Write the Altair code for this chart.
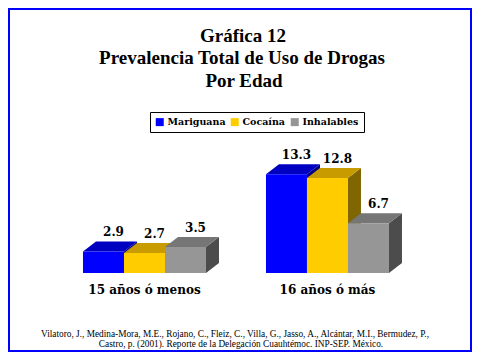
import altair as alt
import pandas as pd

# ---------------- data ----------------
groups = ["15 años ó menos", "16 años ó más"]
series = ["Mariguana", "Cocaína", "Inhalables"]
mariguana = [2.9, 13.3]
cocaina = [2.7, 12.8]
inhalables = [3.5, 6.7]
series_values = [mariguana, cocaina, inhalables]

front_colors = ["#0000FF", "#FFCC00", "#969696"]
top_colors = ["#0000C0", "#C89B00", "#767676"]
side_colors = ["#000080", "#806600", "#4C4C4C"]

title_lines = ["Gráfica 12", "Prevalencia Total de Uso de Drogas", "Por Edad"]
footer_lines = [
    "Vilatoro, J., Medina-Mora,  M.E., Rojano, C., Fleiz, C., Villa, G., Jasso, A., Alcántar, M.I., Bermudez, P.,",
    "Castro, p. (2001). Reporte de la Delegación Cuauhtémoc. INP-SEP. México.",
]

# layout in bar-width units (x) and value units (y)
group_start = [0.0, 4.463]
depth_x = 0.317
depth_y = 1.346
x_domain = [-1.829, 9.488]
y_domain = [-10.633, 35.666]

W, H = 464, 344

# ---------------- derived tables ----------------
fronts, faces, labels = [], [], []
for g, gname in enumerate(groups):
    for s, sname in enumerate(series):
        v = series_values[s][g]
        L = group_start[g] + s
        R = L + 1
        bid = f"{g}-{s}"
        fronts.append(dict(serie=sname, L=L, R=R, T=v, B=0.0))
        labels.append(dict(xc=L + 0.5, v=v, label=f"{v:.1f}"))
        # side face (parallelogram)
        faces.append(dict(id="s" + bid, face=0, px=R, py=v, py2=0.0, fill=side_colors[s]))
        faces.append(dict(id="s" + bid, face=0, px=R + depth_x, py=v + depth_y, py2=depth_y, fill=side_colors[s]))
        # top face (parallelogram)
        faces.append(dict(id="t" + bid, face=1, px=L, py=v, py2=v, fill=top_colors[s]))
        faces.append(dict(id="t" + bid, face=1, px=L + depth_x, py=v + depth_y, py2=v, fill=top_colors[s]))
        faces.append(dict(id="t" + bid, face=1, px=R, py=v + depth_y, py2=v, fill=top_colors[s]))
        faces.append(dict(id="t" + bid, face=1, px=R + depth_x, py=v + depth_y, py2=v + depth_y, fill=top_colors[s]))

fronts = pd.DataFrame(fronts)
faces = pd.DataFrame(faces)
labels = pd.DataFrame(labels)
cats = pd.DataFrame(dict(cx=[gs + 1.5 for gs in group_start], cat=groups))

xs = alt.Scale(domain=x_domain, nice=False, zero=False)
ys = alt.Scale(domain=y_domain, nice=False, zero=False)

def face_layer(kind):
    return (
        alt.Chart(faces[faces.face == kind])
        .mark_area(interpolate="linear", opacity=1)
        .encode(
            x=alt.X("px:Q", scale=xs, axis=None),
            y=alt.Y("py:Q", scale=ys, axis=None, stack=None),
            y2="py2:Q",
            detail="id:N",
            color=alt.Color("fill:N", scale=None),
        )
    )

sides = face_layer(0)
tops = face_layer(1)

front = (
    alt.Chart(fronts)
    .mark_rect()
    .encode(
        x=alt.X("L:Q", scale=xs, axis=None),
        x2="R:Q",
        y=alt.Y("T:Q", scale=ys, axis=None),
        y2="B:Q",
        color=alt.Color(
            "serie:N",
            scale=alt.Scale(domain=series, range=front_colors),
            legend=alt.Legend(
                title=None,
                orient="none",
                legendX=142,
                legendY=104,
                direction="horizontal",
                symbolType="square",
                symbolSize=64,
                symbolStrokeWidth=0,
                labelFont="DejaVu Serif",
                labelFontWeight="bold",
                labelFontSize=9.5,
                labelColor="black",
                labelOffset=3,
                columnPadding=4,
                padding=5,
                strokeColor="black",
                fillColor="white",
            ),
        ),
    )
)

value_text = (
    alt.Chart(labels)
    .mark_text(font="DejaVu Serif", fontWeight="bold", fontSize=12, color="black",
               baseline="alphabetic", align="center", dx=10, dy=-15)
    .encode(
        x=alt.X("xc:Q", scale=xs, axis=None),
        y=alt.Y("v:Q", scale=ys, axis=None),
        text="label:N",
    )
)

cat_text = (
    alt.Chart(cats)
    .mark_text(font="DejaVu Serif", fontWeight="bold", fontSize=12, color="black",
               baseline="alphabetic", align="center")
    .encode(
        x=alt.X("cx:Q", scale=xs, axis=None),
        y=alt.value(286),
        text="cat:N",
    )
)

def text_line(t, x, y, size, weight):
    return (
        alt.Chart(pd.DataFrame({"t": [t]}))
        .mark_text(font="Liberation Serif", fontWeight=weight, fontSize=size, color="black",
                   baseline="alphabetic", align="center")
        .encode(x=alt.value(x), y=alt.value(y), text="t:N")
    )

title_layers = [
    text_line(title_lines[0], 235, 34, 19, "bold"),
    text_line(title_lines[1], 234, 56, 19, "bold"),
    text_line(title_lines[2], 236, 79, 19, "bold"),
]
footer_layers = [
    text_line(footer_lines[0], 227, 329, 9.3, "normal"),
    text_line(footer_lines[1], 233, 339, 9.3, "normal"),
]

chart = (
    alt.layer(sides, tops, front, value_text, cat_text, *title_layers, *footer_layers)
    .properties(width=W, height=H, autosize=alt.AutoSizeParams(type="none"), padding=0,
                background="white")
    .configure_view(stroke="#0000FF", strokeWidth=4)
)

chart.save("out.html", embed_options={"renderer": "svg", "actions": False})
